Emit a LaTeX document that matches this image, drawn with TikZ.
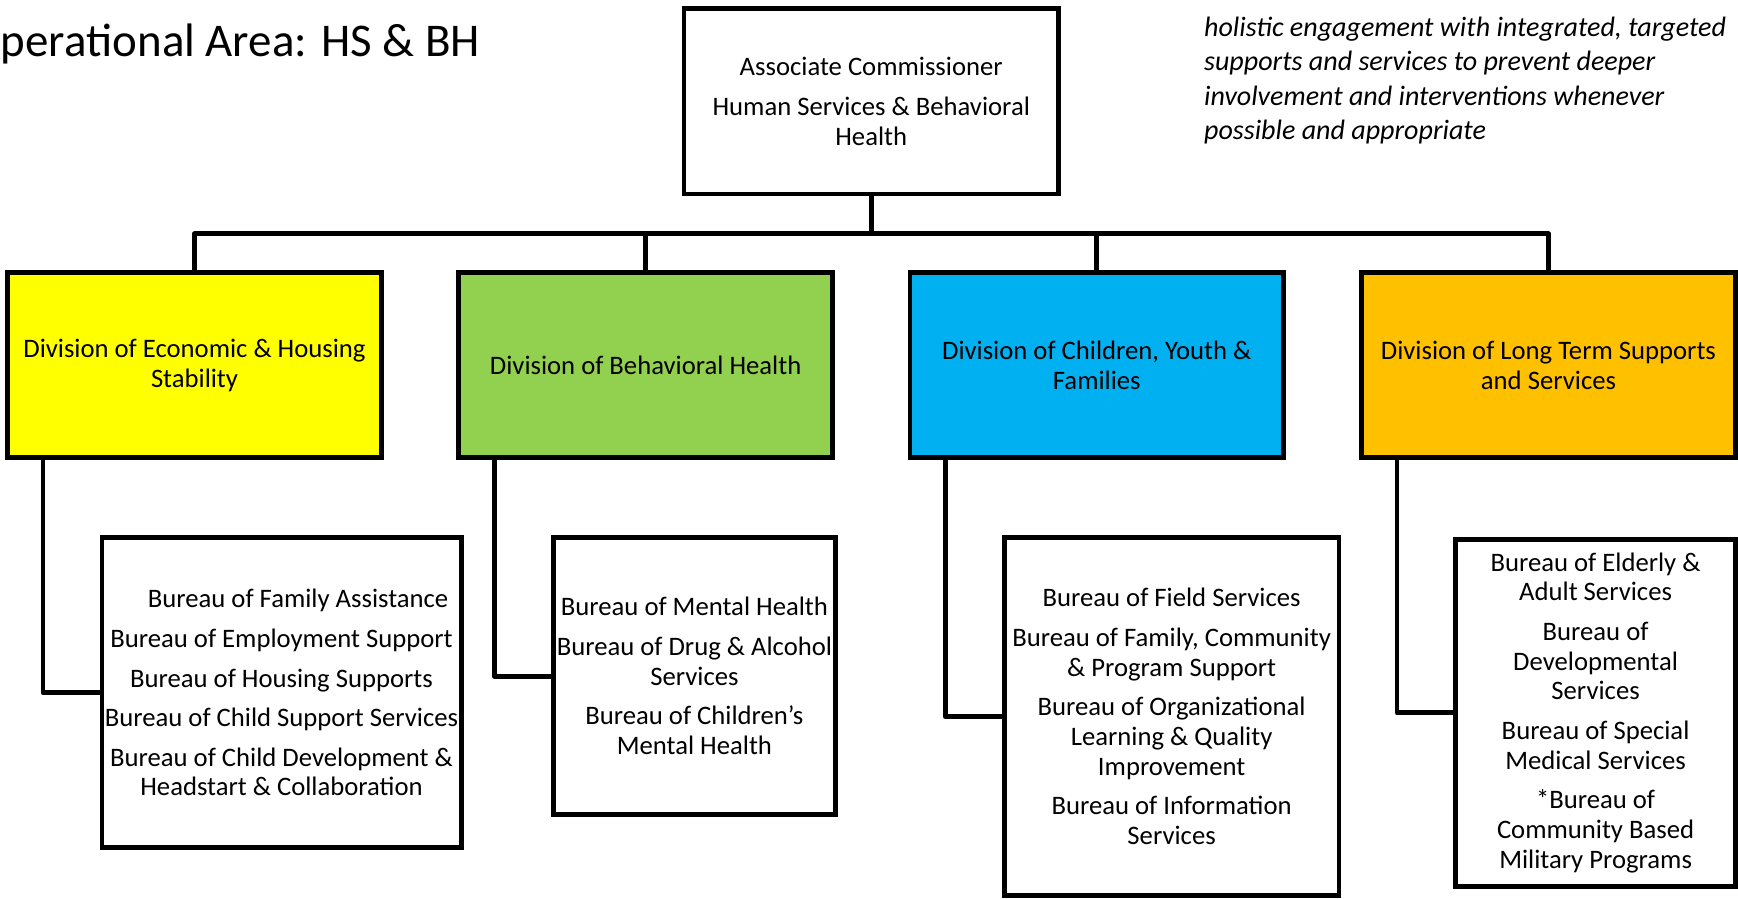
\documentclass[tikz,border=0pt]{standalone}
\usepackage{fontspec}
\setmainfont{Carlito}
\usetikzlibrary{calc}
\definecolor{econfill}{HTML}{FFFF00}
\definecolor{bhfill}{HTML}{92D050}
\definecolor{cyffill}{HTML}{00B0F0}
\definecolor{ltssfill}{HTML}{FFC000}

\begin{document}
\begin{tikzpicture}[x=0.02cm, y=-0.02cm,
    box/.style={draw, line width=2.5pt, rectangle, align=center, inner sep=1pt,
      font=\fontsize{13.7}{15.3}\selectfont},
    division/.style={box, minimum width=6.74cm, minimum height=3.34cm},
    link/.style={line width=2.5pt, line join=round}]
  \useasboundingbox (0,0) rectangle (1568,811);

  \node [anchor=base west, inner sep=0, font=\fontsize{24.1}{28}\selectfont] (title)
    at (-27.5,51) {Operational Area: HS \& BH};
  \node [anchor=north west, inner sep=0, align=left,
    font=\fontsize{14.4}{17.6}\selectfont\itshape] (aim) at (1086,15)
    {holistic engagement with integrated, targeted\\
     supports and services to prevent deeper\\
     involvement and interventions whenever\\
     possible and appropriate};

  \node [box, minimum width=6.76cm, minimum height=3.34cm] (ac) at (786,91.5)
    {Associate Commissioner\\[5pt] Human Services \& Behavioral\\ Health};

  % divisions
  \node [division, fill=econfill] (econ) at (175.5,329.5)
    {Division of Economic \& Housing\\ Stability};
  \node [division, fill=bhfill] (bh) at (582.5,329.5)
    {Division of Behavioral Health};
  \node [division, fill=cyffill] (cyf) at (989.5,329.5)
    {Division of Children, Youth \&\\ Families};
  \node [division, fill=ltssfill] (ltss) at (1397,329.5)
    {Division of Long Term Supports\\ and Services};

  % bureaus
  \node [box, minimum width=6.48cm, minimum height=5.6cm] (econsub) at (254,625)
    {\hspace*{17pt}Bureau of Family Assistance\\[5pt]
     Bureau of Employment Support\\[5pt]
     Bureau of Housing Supports\\[5pt]
     Bureau of Child Support Services\\[5pt]
     Bureau of Child Development \&\\ Headstart \& Collaboration};
  \node [box, minimum width=5.1cm, minimum height=5cm] (bhsub) at (626.5,610)
    {Bureau of Mental Health\\[5pt]
     Bureau of Drug \& Alcohol\\ Services\\[5pt]
     Bureau of Children’s\\ Mental Health};
  \node [box, minimum width=6.04cm, minimum height=6.46cm] (cyfsub) at (1057,646.5)
    {Bureau of Field Services\\[5pt]
     Bureau of Family, Community\\ \& Program Support\\[5pt]
     Bureau of Organizational\\ Learning \& Quality\\ Improvement\\[5pt]
     Bureau of Information\\ Services};
  \node [box, minimum width=5.06cm, minimum height=6.26cm] (ltsssub) at (1439.5,643)
    {Bureau of Elderly \&\\ Adult Services\\[5pt]
     Bureau of\\ Developmental\\ Services\\[5pt]
     Bureau of Special\\ Medical Services\\[5pt]
     *Bureau of\\ Community Based\\ Military Programs};

  % connectors
  \coordinate (bus) at (786,211);
  \draw [link] (ac.south) -- (bus);
  \draw [link] (econ.north) |- (bus);
  \draw [link] (bh.north) |- (bus);
  \draw [link] (cyf.north) |- (bus);
  \draw [link] (ltss.north) |- (bus);
  \draw [link] ($(econ.south west)+(34,0)$) |- (econsub.west);
  \draw [link] ($(bh.south west)+(34,0)$) |- (bhsub.west);
  \draw [link] ($(cyf.south west)+(34,0)$) |- (cyfsub.west);
  \draw [link] ($(ltss.south west)+(34,0)$) |- (ltsssub.west);
\end{tikzpicture}
\end{document}
